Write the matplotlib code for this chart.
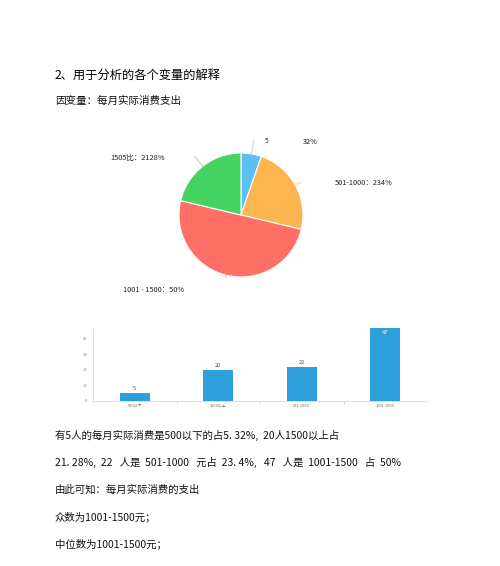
import matplotlib.pyplot as plt
import numpy as np

plt.rcParams['font.family'] = ['Noto Sans CJK SC', 'DejaVu Sans']

# 饼图数据（按顺时针，从正上方开始）
pie_shares = [5.32, 23.4, 50.0, 21.28]
pie_colors = ['#5ac0f5', '#fdb54f', '#fe6f66', '#45d362']

# 柱状图数据
bar_cats = ['500以下', '1500以上', '501-1000', '1001-1500']
bar_vals = [5, 20, 22, 47]
y_ticks = [0, 10, 20, 30, 40]

W, H = 500, 566
fig = plt.figure(figsize=(W / 100, H / 100), dpi=100)
fig.patch.set_facecolor('white')


def px(x, y):
    # 像素坐标 -> figure 坐标
    return x / W, 1 - y / H


def put(x, y, s, **kw):
    fx, fy = px(x, y)
    fig.text(fx, fy, s, va='center', **kw)


# 正文文字
put(55, 75, '2、用于分析的各个变量的解释', fontsize=8.8, color='#000000', fontweight='medium')
put(55, 101, '因变量：每月实际消费支出', fontsize=7.6, color='#111111', fontweight='medium')

body = [
    '有5人的每月实际消费是500以下的占5. 32%,  20人1500以上占',
    '21. 28%,  22   人是  501-1000   元占  23. 4%,   47   人是  1001-1500   占  50%',
    '由此可知：每月实际消费的支出',
    '众数为1001-1500元；',
    '中位数为1001-1500元；',
]
for i, line in enumerate(body):
    put(55, 435 + i * 27.3, line, fontsize=7.5, color='#111111', fontweight='medium')

# 饼图
cx, cy, r = 241, 215, 62
ax_pie = fig.add_axes([(cx - r) / W, (H - cy - r) / H, 2 * r / W, 2 * r / H])
wedges, _ = ax_pie.pie(pie_shares, colors=pie_colors, startangle=90, counterclock=False,
                       radius=1, wedgeprops=dict(edgecolor='white', linewidth=0.8))
ax_pie.set_xlim(-1, 1)
ax_pie.set_ylim(-1, 1)
ax_pie.set_aspect('auto')
ax_pie.axis('off')

# 引导线
for w, c, ext in zip(wedges, pie_colors, [0.22, 0.1, 0.04, 0.2]):
    ang = np.deg2rad((w.theta1 + w.theta2) / 2)
    x0, y0 = np.cos(ang), np.sin(ang)
    x1, y1 = (1 + ext) * x0, (1 + ext) * y0
    ax_pie.plot([x0, x1], [y0, y1], color=c, alpha=0.5, lw=0.8, clip_on=False)

put(265, 141, '5', fontsize=4.8, color='#333333')
put(303, 142, '32%', fontsize=5.3, color='#222222')
put(110, 158, '1505比：2128%', fontsize=5.3, color='#222222')
put(335, 183, '501-1000：234%', fontsize=5.3, color='#222222')
put(123, 290, '1001 - 1500：50%', fontsize=5.3, color='#222222')

# 柱状图
left, right, top, bottom = 93, 427, 328, 401
ax_bar = fig.add_axes([left / W, (H - bottom) / H, (right - left) / W, (bottom - top) / H])
xs = np.arange(len(bar_vals))
bars = ax_bar.bar(xs, bar_vals, width=0.36, color='#2e9fdb')
ax_bar.set_xlim(-0.5, len(bar_vals) - 0.5)
ax_bar.set_ylim(0, max(bar_vals))
ax_bar.set_yticks(y_ticks)
ax_bar.set_yticklabels([str(t) for t in y_ticks], fontsize=3, color='#888888')
ax_bar.set_xticks(xs)
ax_bar.set_xticklabels(bar_cats, fontsize=2.8, color='#666666')
ax_bar.tick_params(axis='x', length=0, pad=2)
ax_bar.tick_params(axis='y', length=0, pad=4)
ax_bar.set_xticks(xs[:-1] + 0.5, minor=True)
ax_bar.tick_params(axis='x', which='minor', length=2, color='#cccccc', width=0.5)
for s in ['top', 'right']:
    ax_bar.spines[s].set_visible(False)
for s in ['left', 'bottom']:
    ax_bar.spines[s].set_color('#d8d8d8')
    ax_bar.spines[s].set_linewidth(0.6)

for b, v in zip(bars, bar_vals):
    if v == max(bar_vals):
        ax_bar.text(b.get_x() + b.get_width() / 2, v - 1.5, str(v), ha='center', va='top',
                    fontsize=4, color='white')
    else:
        ax_bar.text(b.get_x() + b.get_width() / 2, v + 1.5, str(v), ha='center', va='bottom',
                    fontsize=4, color='#444444')

fig.savefig('out.png', dpi=100)
